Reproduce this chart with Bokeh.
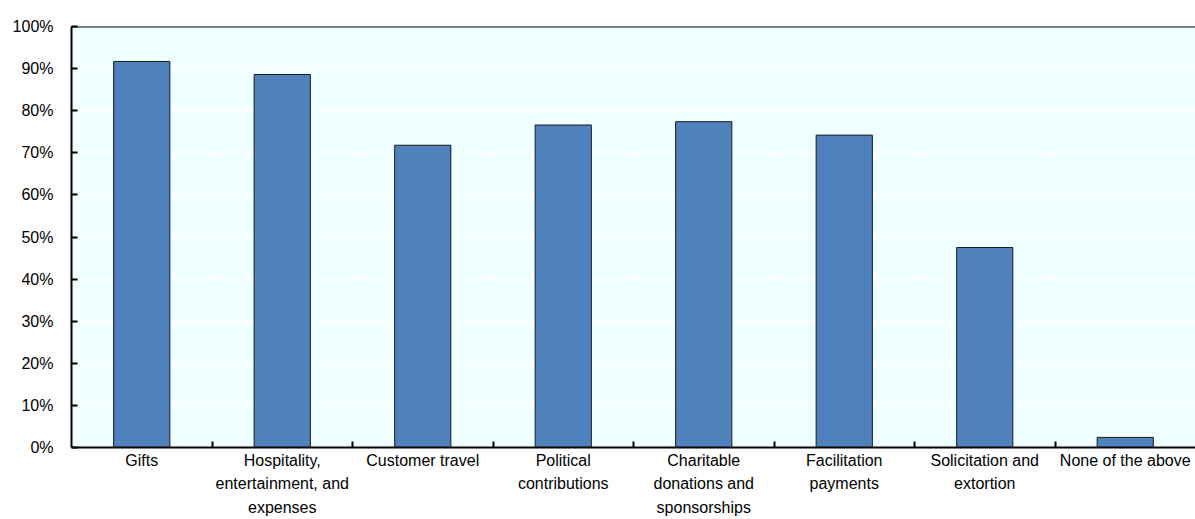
from bokeh.plotting import figure
from bokeh.models import Range1d, FixedTicker, PrintfTickFormatter, Span, ColumnDataSource
from bokeh.embed import file_html
from bokeh.resources import INLINE

categories = ["Gifts", "Hospitality, entertainment, and expenses", "Customer travel",
              "Political contributions", "Charitable donations and sponsorships",
              "Facilitation payments", "Solicitation and extortion", "None of the above"]
tick_labels = ["Gifts", "Hospitality,\nentertainment, and\nexpenses", "Customer travel",
               "Political\ncontributions", "Charitable\ndonations and\nsponsorships",
               "Facilitation\npayments", "Solicitation and\nextortion", "None of the above"]
values = [91.7, 88.6, 71.8, 76.6, 77.4, 74.2, 47.5, 2.4]
y_ticks = [0, 10, 20, 30, 40, 50, 60, 70, 80, 90, 100]

FONT = "Liberation Sans"

n = len(categories)
centers = [i + 0.5 for i in range(n)]
bounds = [i for i in range(1, n)]

src = ColumnDataSource(dict(x=centers, top=values, cat=categories))

p = figure(width=1195, height=519, output_backend="svg", toolbar_location=None,
           x_range=Range1d(0, n), y_range=Range1d(0, 100),
           min_border_left=71, min_border_right=0, min_border_top=26, min_border_bottom=0)

p.background_fill_color = "#F0FFFF"
p.border_fill_color = "white"
p.outline_line_color = None

p.vbar(x="x", top="top", width=0.4, bottom=0, source=src,
       fill_color="#4F81BD", line_color="#1a1a1a", line_width=1)

# x axis
p.xaxis.ticker = FixedTicker(ticks=centers, minor_ticks=bounds)
p.xaxis.major_label_overrides = {c: l for c, l in zip(centers, tick_labels)}
p.xaxis.major_tick_line_color = None
p.xaxis.major_tick_in = 0
p.xaxis.major_tick_out = 0
p.xaxis.minor_tick_line_color = "black"
p.xaxis.minor_tick_line_width = 2
p.xaxis.minor_tick_in = 6
p.xaxis.minor_tick_out = 0
p.xaxis.axis_line_color = "black"
p.xaxis.axis_line_width = 2
p.xaxis.major_label_text_font = FONT
p.xaxis.major_label_text_font_size = "16px"
p.xaxis.major_label_text_color = "black"
p.xaxis.major_label_text_line_height = 1.4
p.xaxis.major_label_standoff = 4

# y axis
p.yaxis.ticker = FixedTicker(ticks=y_ticks)
p.yaxis.formatter = PrintfTickFormatter(format="%d%%")
p.yaxis.major_tick_in = 6
p.yaxis.major_tick_out = 0
p.yaxis.major_tick_line_width = 2
p.yaxis.major_tick_line_color = "black"
p.yaxis.minor_tick_line_color = None
p.yaxis.axis_line_color = "black"
p.yaxis.axis_line_width = 2
p.yaxis.major_label_text_font = FONT
p.yaxis.major_label_text_font_size = "16px"
p.yaxis.major_label_text_color = "black"
p.yaxis.major_label_standoff = 18

# grids
p.xgrid.ticker = FixedTicker(ticks=bounds)
p.xgrid.grid_line_color = "white"
p.xgrid.grid_line_width = 1.5
p.ygrid.ticker = FixedTicker(ticks=y_ticks)
p.ygrid.grid_line_color = "white"
p.ygrid.grid_line_width = 1.5

p.add_layout(Span(location=100, dimension="width", line_color="black", line_width=2))

open("out.html", "w").write(file_html(p, INLINE))
